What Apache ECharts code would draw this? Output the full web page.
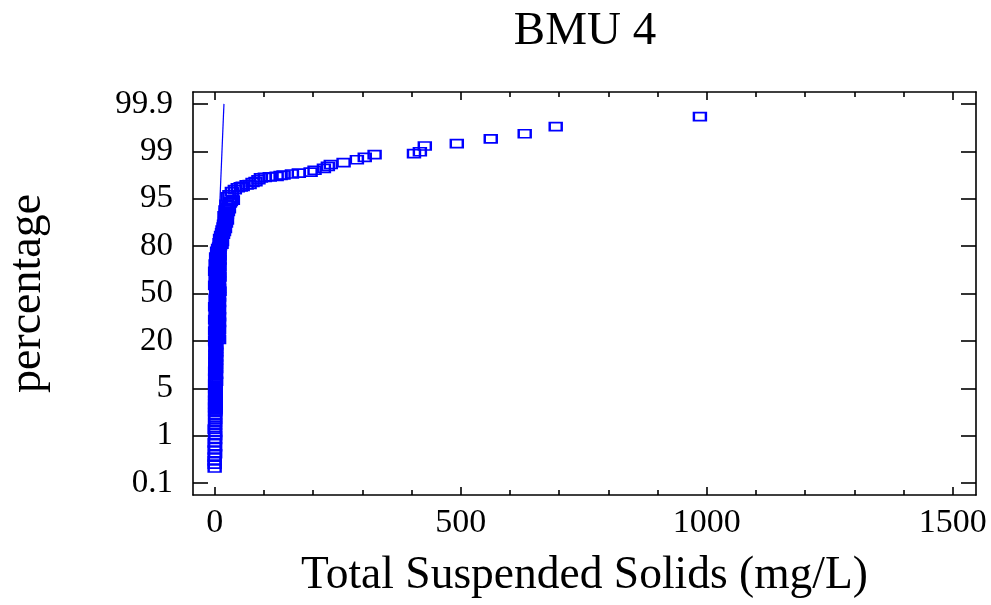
<!DOCTYPE html>
<html>
<head>
<meta charset="utf-8">
<script src="https://cdn.jsdelivr.net/npm/echarts@6/dist/echarts.min.js"></script>
<style>
html,body{margin:0;padding:0;background:#fff;}
#chart{width:991px;height:605px;}
</style>
</head>
<body>
<div id="chart"></div>
<script>
// Percentile tick labels (evenly spaced positions 0..8 on the probability axis)
const percentLabels = ['0.1','1','5','20','50','80','95','99','99.9'];
const xMajorTicks = [0, 500, 1000, 1500];
const xMinorTicks = [100,200,300,400,600,700,800,900,1100,1200,1300,1400];

// Observed TSS values (mg/L), sorted by plotting position
const tssValues = [
  0,0,0,0,1,0,1,0,1,1,1,0,1,1,1,1,1,
  1,2,1,1,2,1,2,1,1,2,2,1,2,1,2,2,1,2,2,1,2,3,2,1,2,2,3,2,1,2,3,2,2,3,2,2,3,2,3,2,2,3,3,2,3,2,3,3,2,
  1,9,4,7,2,8,5,1,9,3,6,8,2,9,4,1,7,9,3,5,8,2,9,6,1,8,4,9,3,7,2,9,5,8,3,10,6,9,4,1,8,5,9,2,7,10,3,6,9,1,8,4,10,6,2,9,5,10,
  8,3,10,6,9,5,10,7,9,11,14,10,15,12,11,14,13,17,15,19,16,21,18,20,19,23,21,25,22,24,20,25,23,27,22,29,26,28,24,31,33,37,
  26,30,35,41,47,53,57,65,71,77,83,89,94,102,112,126,134,140,157,171,195,203,222,230,236,262,289,305,325,405,417,427,492,561,630,693,986
];
// Plotting position of each value on the probability axis (0 = 0.1%, 8 = 99.9%)
const probPos = [
  0.32,0.40,0.47,0.55,0.62,0.70,0.77,0.85,0.92,1.00,1.07,1.14,1.21,1.28,1.35,1.42,1.49,
  1.52,1.55,1.58,1.61,1.64,1.67,1.70,1.73,1.76,1.79,1.82,1.85,1.88,1.91,1.94,1.97,2.00,2.03,2.06,2.09,2.12,2.15,2.18,2.21,2.24,2.27,2.30,2.33,2.36,2.39,2.42,2.45,2.48,2.51,2.54,2.57,2.60,2.63,2.66,2.69,2.72,2.75,2.78,2.81,2.84,2.87,2.90,2.93,2.96,
  3.00,3.03,3.06,3.09,3.12,3.15,3.18,3.21,3.24,3.27,3.30,3.33,3.36,3.39,3.42,3.45,3.48,3.51,3.54,3.57,3.60,3.63,3.66,3.69,3.72,3.75,3.78,3.81,3.84,3.87,3.90,3.93,3.96,3.99,4.02,4.05,4.08,4.11,4.14,4.17,4.20,4.23,4.26,4.29,4.32,4.35,4.38,4.41,4.44,4.47,4.50,4.53,4.56,4.59,4.62,4.65,4.68,4.71,
  4.74,4.77,4.80,4.83,4.86,4.89,4.92,4.95,4.98,5.01,5.04,5.07,5.10,5.13,5.16,5.19,5.22,5.25,5.28,5.31,5.34,5.37,5.40,5.43,5.46,5.49,5.52,5.55,5.58,5.61,5.64,5.67,5.70,5.73,5.76,5.79,5.82,5.85,5.88,5.91,5.94,5.97,
  6.04,6.08,6.15,6.19,6.23,6.25,6.26,6.29,6.30,6.34,6.36,6.40,6.44,6.45,6.46,6.47,6.49,6.50,6.52,6.54,6.56,6.60,6.64,6.68,6.72,6.76,6.82,6.87,6.93,6.95,6.99,7.11,7.16,7.26,7.37,7.52,7.73
];
// Fitted normal line end points
const fitX = [-5.3, 18.9];
const fitPos = [2, 8];

const FONT = "'Liberation Serif','Times New Roman',serif";
const X_MIN = -44, X_MAX = 1547;
const Y_MIN = -0.25, Y_MAX = 8.25;

const scatterData = tssValues.map((v, i) => [v, probPos[i]]);
const lineData = fitX.map((v, i) => [v, fitPos[i]]);
const yTicks = percentLabels.map((_, i) => i);

function xAx(pos, ticks, len, showLine, showLabel) {
  return {
    type: 'value', position: pos, min: X_MIN, max: X_MAX,
    axisLine: {show: showLine, onZero: false, lineStyle: {color: '#000', width: 1.6}},
    axisTick: {show: true, inside: true, length: len, customValues: ticks, lineStyle: {color: '#000', width: 1.6}},
    axisLabel: {show: showLabel, customValues: ticks, margin: 11, color: '#000', fontFamily: FONT, fontSize: 34,
      formatter: v => String(v)},
    splitLine: {show: false}
  };
}

const chart = echarts.init(document.getElementById('chart'), null, {renderer: 'canvas'});
const xBottom = xAx('bottom', xMajorTicks, 8, true, true);
xBottom.name = 'Total Suspended Solids (mg/L)';
xBottom.nameLocation = 'middle';
xBottom.nameGap = 58;
xBottom.nameTextStyle = {color: '#000', fontFamily: FONT, fontSize: 45.5};

chart.setOption({
  animation: false,
  backgroundColor: '#fff',
  title: {
    text: 'BMU 4', left: 580, top: 3, textAlign: 'center',
    textStyle: {color: '#000', fontFamily: FONT, fontSize: 47, fontWeight: 'normal'}
  },
  grid: {left: 193, right: 15, top: 92, bottom: 110, containLabel: false, outerBoundsMode: 'none'},
  xAxis: [
    xBottom,
    xAx('bottom', xMinorTicks, 5, false, false),
    xAx('top', xMajorTicks, 8, true, false),
    xAx('top', xMinorTicks, 5, false, false)
  ],
  yAxis: [
    {
      type: 'value', position: 'left', min: Y_MIN, max: Y_MAX,
      name: 'percentage', nameLocation: 'middle', nameGap: 142, nameRotate: 90,
      nameTextStyle: {color: '#000', fontFamily: FONT, fontSize: 46},
      axisLine: {show: true, onZero: false, lineStyle: {color: '#000', width: 1.6}},
      axisTick: {show: true, inside: true, length: 15, customValues: yTicks, lineStyle: {color: '#000', width: 1.6}},
      axisLabel: {show: true, customValues: yTicks, margin: 20, color: '#000', fontFamily: FONT, fontSize: 33,
        formatter: v => percentLabels[Math.round(v)]},
      splitLine: {show: false}
    },
    {
      type: 'value', position: 'right', min: Y_MIN, max: Y_MAX,
      axisLine: {show: true, onZero: false, lineStyle: {color: '#000', width: 1.6}},
      axisTick: {show: true, inside: true, length: 15, customValues: yTicks, lineStyle: {color: '#000', width: 1.6}},
      axisLabel: {show: false},
      splitLine: {show: false}
    }
  ],
  series: [
    {
      type: 'line', xAxisIndex: 0, yAxisIndex: 0, data: lineData,
      symbol: 'none', lineStyle: {color: '#0000ff', width: 1.2}, z: 1
    },
    {
      type: 'scatter', xAxisIndex: 0, yAxisIndex: 0, data: scatterData,
      symbol: 'rect', symbolSize: [12, 8],
      itemStyle: {color: 'rgba(255,255,255,0)', borderColor: '#0000ff', borderWidth: 2, opacity: 1},
      z: 2
    }
  ]
});
</script>
</body>
</html>
